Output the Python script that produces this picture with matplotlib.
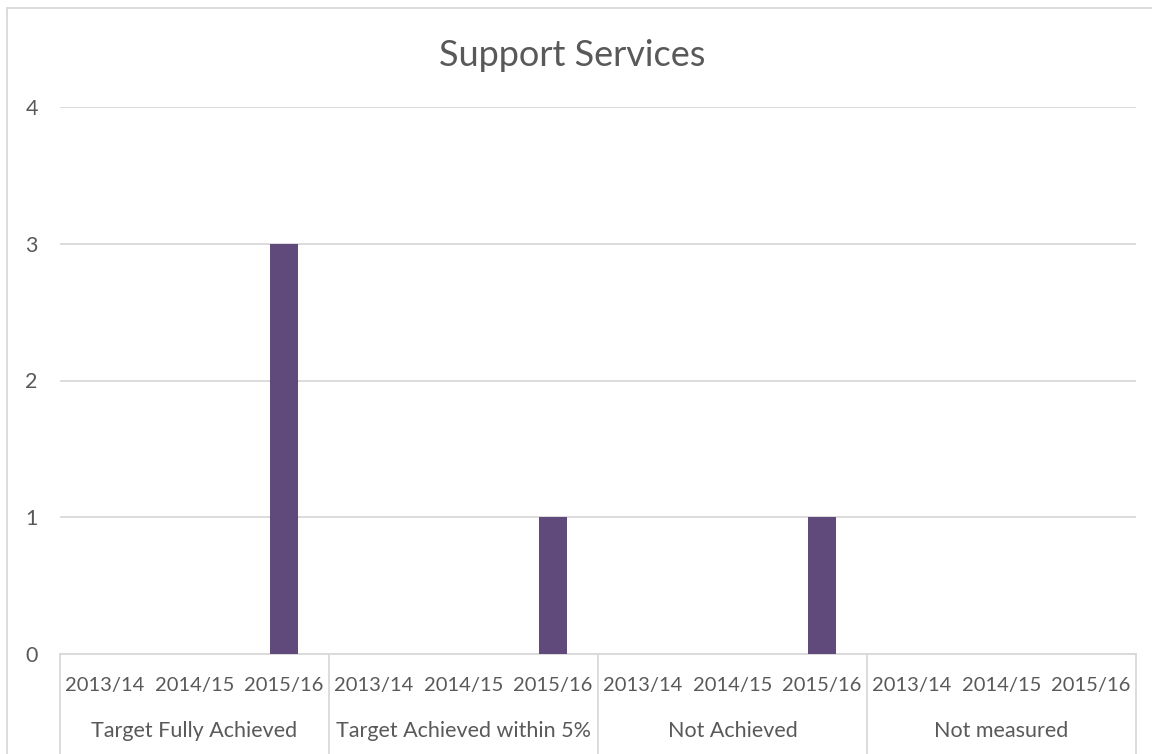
import matplotlib.pyplot as plt
from matplotlib.patches import Rectangle
from matplotlib.lines import Line2D
from matplotlib.transforms import blended_transform_factory

plt.rcParams['font.family'] = ['Lato', 'DejaVu Sans']

groups = ['Target Fully Achieved', 'Target Achieved within 5%', 'Not Achieved', 'Not measured']
years = ['2013/14', '2014/15', '2015/16']
counts = [
    [0, 0, 3],
    [0, 0, 1],
    [0, 0, 1],
    [0, 0, 0],
]

text_col = '#595959'
grid_col = '#D9D9D9'
bar_col = '#604A7B'
fs = 15.5

fig = plt.figure(figsize=(11.52, 7.54), dpi=100)
ax = fig.add_axes([60 / 1152, 100 / 754, 1076 / 1152, 547 / 754])

# one slot per (group, year)
xs, vals, labels = [], [], []
for g, row in enumerate(counts):
    for y, v in enumerate(row):
        xs.append(g * len(years) + y)
        vals.append(v)
        labels.append(years[y])

ax.bar(xs, vals, width=0.31, color=bar_col, zorder=3)
ax.set_xlim(-0.5, len(xs) - 0.5)
ax.set_ylim(0, 4)
ax.set_yticks(range(5))
ax.yaxis.grid(True, color=grid_col, linewidth=1.3)
ax.set_axisbelow(True)
for s in ['top', 'right', 'left']:
    ax.spines[s].set_visible(False)
ax.spines['bottom'].set_color(grid_col)
ax.spines['bottom'].set_linewidth(1.3)
ax.tick_params(axis='y', length=0, pad=16, labelsize=fs, labelcolor=text_col)
ax.tick_params(axis='x', length=0, labelbottom=False)

# two-level category axis
tr = blended_transform_factory(ax.transData, ax.transAxes)
for x, lab in zip(xs, labels):
    ax.text(x, -0.058, lab, transform=tr, ha='center', va='center',
            fontsize=14.5, color=text_col)
n = len(years)
for g, name in enumerate(groups):
    ax.text(g * n + (n - 1) / 2, -0.14, name, transform=tr, ha='center',
            va='center', fontsize=fs, color=text_col)
for g in range(len(groups) + 1):
    ax.add_line(Line2D([g * n - 0.5] * 2, [0, -0.2], transform=tr,
                       color=grid_col, linewidth=1.3, clip_on=False))

fig.text(572 / 1152, (754 - 55) / 754, 'Support Services', ha='center',
         va='center', fontsize=26, color=text_col)

# chart frame
fig.patches.append(Rectangle((7 / 1152, -0.05), 1.2, (754 - 8) / 754 + 0.05,
                             transform=fig.transFigure, fill=False,
                             edgecolor=grid_col, linewidth=1.3))

fig.savefig('out.png', dpi=100)
